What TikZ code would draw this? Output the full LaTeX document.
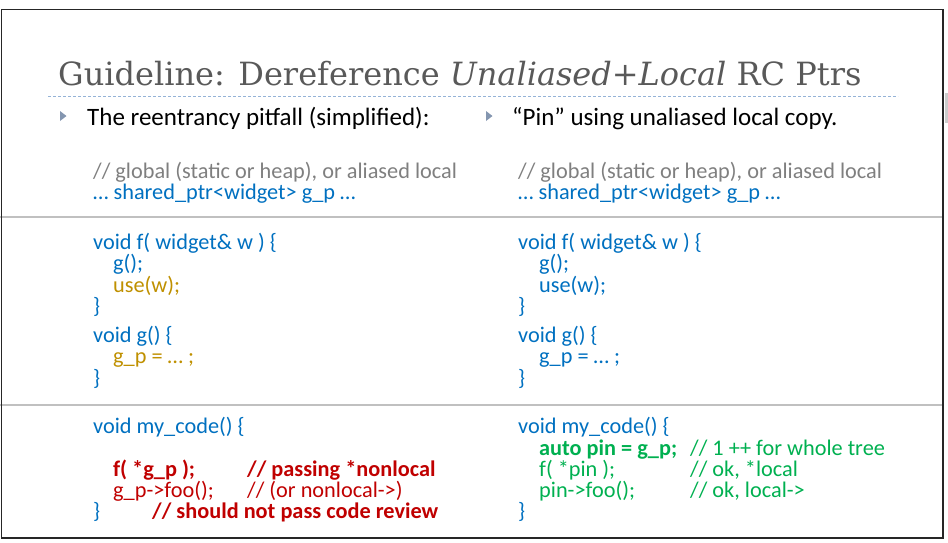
\documentclass[tikz,border=0pt]{standalone}
\usepackage{fontspec}
\setmainfont{Carlito}
\newfontfamily\titlefont{DejaVu Serif}
\definecolor{titlegray}{HTML}{595959}
\definecolor{cblue}{HTML}{0070C0}
\definecolor{cgray}{HTML}{7F7F7F}
\definecolor{cgold}{HTML}{BF9000}
\definecolor{cred}{HTML}{C00000}
\definecolor{cgreen}{HTML}{00B050}
\definecolor{sepgray}{HTML}{C0C0C0}
\definecolor{dashblue}{HTML}{95B3D7}
\definecolor{bulletblue}{HTML}{8496B0}
\begin{document}
\begin{tikzpicture}[x=1pt,y=-1pt,
  code/.style={anchor=base west, inner sep=0pt, font=\fontsize{22.3}{22}\selectfont},
  boldcode/.style={code, font=\fontsize{22.3}{22}\selectfont\bfseries},
  bul/.style={anchor=base west, inner sep=0pt, font=\fontsize{25}{25}\selectfont, text=black},
  sep/.style={draw=sepgray, line width=2.5pt},
  tri/.style={fill=bulletblue}]
\useasboundingbox (0,0) rectangle (948,542);
% separators
\coordinate (s1a) at (0,217); \coordinate (s1b) at (943,217);
\coordinate (s2a) at (0,405); \coordinate (s2b) at (943,405);
\draw[sep] (s1a) -- (s1b);
\draw[sep] (s2a) -- (s2b);
% frame
\draw[line width=1.6pt, black!85] (1.5,9.5) rectangle (943,538);
\fill[gray!40] (945,93) rectangle (948,123);
% title
\node[anchor=base west, inner sep=0pt, text=titlegray, font=\titlefont\fontsize{32}{32}\selectfont] (title) at (58,85) {Guideline: Dereference \textit{Unaliased+Local} RC Ptrs};
\coordinate (d1) at (48,96.5); \coordinate (d2) at (898,96.5);
\draw[dashblue, line width=0.7pt, dash pattern=on 3pt off 2pt] (d1) -- (d2);
% bullets
\fill[tri] (60,111) -- (66.5,116) -- (60,121) -- cycle;
\fill[tri] (486,111) -- (492.5,116) -- (486,121) -- cycle;
\node[bul] (b1) at (87,125) {The reentrancy pitfall (simplified):};
\node[bul] (b2) at (512,125) {“Pin” using unaliased local copy.};
% left column
\node[code, text=cgray] (l1) at (93,178) {// global (static or heap), or aliased local};
\node[code, text=cblue] (l2) at (93,199) {… shared\_ptr<widget> g\_p …};
\node[code, text=cblue] (l3) at (93,249) {void f( widget\& w ) \{};
\node[code, text=cblue] (l4) at (113,270.5) {g();};
\node[code, text=cgold] (l5) at (113,292) {use(w);};
\node[code, text=cblue] (l6) at (93,313.5) {\}};
\node[code, text=cblue] (l7) at (93,342) {void g() \{};
\node[code, text=cgold] (l8) at (113,363) {g\_p = … ;};
\node[code, text=cblue] (l9) at (93,385) {\}};
\node[code, text=cblue] (l10) at (93,433) {void my\_code() \{};
\node[boldcode, text=cred] (l11) at (113,476) {f( *g\_p );};
\node[boldcode, text=cred] (l11c) at (247,476) {// passing *nonlocal};
\node[code, text=cred] (l12) at (113,497) {g\_p->foo();};
\node[code, text=cred] (l12c) at (247,497) {// (or nonlocal->)};
\node[code, text=cblue] (l13) at (93,518) {\}};
\node[boldcode, text=cred] (l13c) at (152,518) {// should not pass code review};
% right column
\node[code, text=cgray] (r1) at (518,178) {// global (static or heap), or aliased local};
\node[code, text=cblue] (r2) at (518,199) {… shared\_ptr<widget> g\_p …};
\node[code, text=cblue] (r3) at (518,249) {void f( widget\& w ) \{};
\node[code, text=cblue] (r4) at (539,270.5) {g();};
\node[code, text=cblue] (r5) at (539,292) {use(w);};
\node[code, text=cblue] (r6) at (518,313.5) {\}};
\node[code, text=cblue] (r7) at (518,342) {void g() \{};
\node[code, text=cblue] (r8) at (539,363) {g\_p = … ;};
\node[code, text=cblue] (r9) at (518,385) {\}};
\node[code, text=cblue] (r10) at (518,433) {void my\_code() \{};
\node[boldcode, text=cgreen] (r11) at (539,455) {auto pin = g\_p;};
\node[code, text=cgreen] (r11c) at (690,455) {// 1 ++ for whole tree};
\node[code, text=cgreen] (r12) at (539,476) {f( *pin );};
\node[code, text=cgreen] (r12c) at (690,476) {// ok, *local};
\node[code, text=cgreen] (r13) at (539,497) {pin->foo();};
\node[code, text=cgreen] (r13c) at (690,497) {// ok, local->};
\node[code, text=cblue] (r14) at (518,518) {\}};
\end{tikzpicture}
\end{document}
